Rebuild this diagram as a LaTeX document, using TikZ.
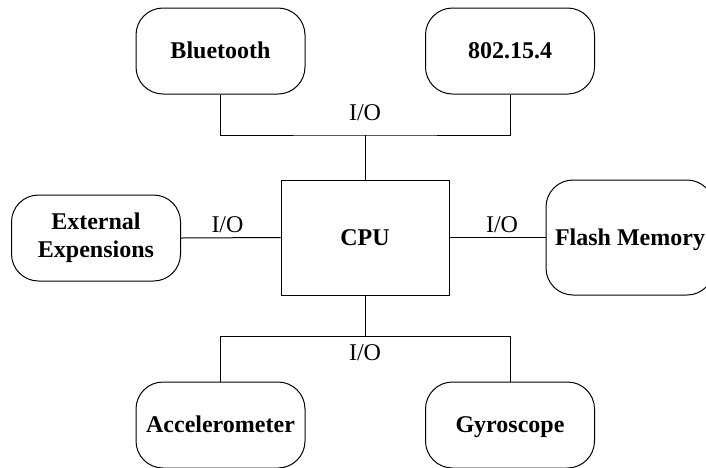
\documentclass[tikz,border=0pt]{standalone}
\usepackage{fontspec}
\setmainfont{Liberation Serif}
\begin{document}
\begin{tikzpicture}[x=1pt, y=-1pt, line width=1pt,
	box/.style={draw, rounded corners=27pt, minimum width=169pt, minimum height=86pt,
		inner sep=0pt, align=center, font=\bfseries\fontsize{24}{28}\selectfont},
	module/.style={box, text height=20pt, text depth=5pt},
	bigbox/.style={module, minimum width=168pt, minimum height=115pt},
	cpubox/.style={bigbox, rounded corners=0pt},
	iolabel/.style={inner sep=0pt, font=\fontsize{24}{28}\selectfont}]
	\useasboundingbox (0,0) rectangle (706,467);
	
	\node[module] (bt) at (220.5,51) {Bluetooth};
	\node[module] (zb) at (510,51) {802.15.4};
	\node[box] (ext) at (96,238) {External\\Expensions};
	\node[cpubox] (cpu) at (365,237.5) {CPU};
	\node[bigbox] (flash) at (630,237.5) {Flash Memory};
	\node[module] (acc) at (220.5,425) {Accelerometer};
	\node[module] (gyr) at (510,425) {Gyroscope};
	
	\coordinate (topbus) at (365,135);
	\coordinate (botbus) at (365,336);
	
	\draw (bt.south) |- (topbus) -| (zb.south);
	\draw (topbus) -- (cpu.north);
	\draw (acc.north) |- (botbus) -| (gyr.north);
	\draw (botbus) -- (cpu.south);
	\draw (ext.east) -- (cpu.west);
	\draw (cpu.east) -- (flash.west);
	
	\node[iolabel] (iotop) at (365,113) {I/O};
	\node[iolabel] (ioleft) at (227.5,225) {I/O};
	\node[iolabel] (ioright) at (502,225) {I/O};
	\node[iolabel] (iobot) at (365,353) {I/O};
\end{tikzpicture}
\end{document}
